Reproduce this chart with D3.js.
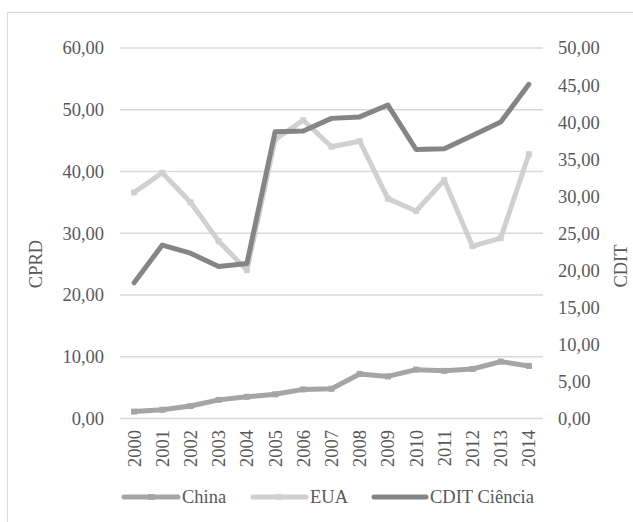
<!DOCTYPE html>
<html>
<head>
<meta charset="utf-8">
<script src="https://cdn.jsdelivr.net/npm/d3@7"></script>
<style>
  text { font-family: "Liberation Serif" !important; }
</style>
</head>
<body style="margin:0">
<svg id="c" width="633" height="522"></svg>
<script>
// years on the x axis
const years = ["2000","2001","2002","2003","2004","2005","2006","2007","2008","2009","2010","2011","2012","2013","2014"];

// left axis (CPRD)
const china = [1.1, 1.4, 2.0, 3.0, 3.5, 3.9, 4.7, 4.8, 7.2, 6.8, 7.9, 7.7, 8.0, 9.2, 8.5];
const eua = [36.6, 39.8, 35.0, 28.7, 24.0, 45.2, 48.3, 44.0, 44.9, 35.6, 33.6, 38.6, 27.9, 29.2, 42.8];

// right axis (CDIT)
const cditCiencia = [18.3, 23.4, 22.3, 20.5, 20.9, 38.7, 38.8, 40.5, 40.7, 42.3, 36.3, 36.4, 38.2, 40.0, 45.1];

const leftTicks = [0, 10, 20, 30, 40, 50, 60];
const rightTicks = [0, 5, 10, 15, 20, 25, 30, 35, 40, 45, 50];

const series = [
  { name: "China", values: china, axis: "left", color: "#a5a5a5", marker: true },
  { name: "EUA", values: eua, axis: "left", color: "#d0d0d0", marker: true },
  { name: "CDIT Ciência", values: cditCiencia, axis: "right", color: "#858585", marker: false }
];

const fmt = v => d3.format(".2f")(v).replace(".", ",");

const svg = d3.select("#c");

// outer chart border
svg.append("rect")
  .attr("x", 7.5).attr("y", 12.5)
  .attr("width", 700).attr("height", 600)
  .attr("fill", "none")
  .attr("stroke", "#d9d9d9")
  .attr("stroke-width", 1);

const plot = { left: 120, right: 543, top: 48, bottom: 418.4 };

const x = d3.scaleBand()
  .domain(years)
  .range([plot.left, plot.right]);

const yLeft = d3.scaleLinear().domain([0, 60]).range([plot.bottom, plot.top]);
const yRight = d3.scaleLinear().domain([0, 50]).range([plot.bottom, plot.top]);

// gridlines
svg.selectAll("line.grid")
  .data(leftTicks)
  .join("line")
  .attr("class", "grid")
  .attr("x1", plot.left).attr("x2", plot.right)
  .attr("y1", d => yLeft(d)).attr("y2", d => yLeft(d))
  .attr("stroke", "#d9d9d9")
  .attr("stroke-width", 1.5);

// every text goes straight under the svg
function addText(x0, y0, str, anchor, rotate) {
  const t = svg.append("text")
    .attr("font-family", "Liberation Serif")
    .style("font-family", "Liberation Serif")
    .attr("font-size", 18.5)
    .attr("fill", "#595959")
    .attr("text-anchor", anchor)
    .attr("dy", "0.35em")
    .text(str);
  if (rotate) {
    t.attr("transform", `translate(${x0},${y0}) rotate(-90)`);
  } else {
    t.attr("x", x0).attr("y", y0);
  }
  return t;
}

leftTicks.forEach(d => addText(104, yLeft(d), fmt(d), "end"));
rightTicks.forEach(d => addText(558, yRight(d), fmt(d), "start"));
years.forEach(d => addText(x(d) + x.bandwidth() / 2, 430, d, "end", true));
addText(36, 264, "CPRD", "middle", true);
addText(621, 266, "CDIT", "middle", true);

// lines
const cx = i => x(years[i]) + x.bandwidth() / 2;

series.forEach(s => {
  const yScale = s.axis === "left" ? yLeft : yRight;
  const line = d3.line()
    .x((d, i) => cx(i))
    .y(d => yScale(d));

  svg.append("path")
    .datum(s.values)
    .attr("d", line)
    .attr("fill", "none")
    .attr("stroke", s.color)
    .attr("stroke-width", 5)
    .attr("stroke-linejoin", "round")
    .attr("stroke-linecap", "round");

  if (s.marker) {
    s.values.forEach((d, i) => {
      svg.append("rect")
        .attr("x", cx(i) - 3)
        .attr("y", yScale(d) - 3)
        .attr("width", 6).attr("height", 6)
        .attr("fill", s.color);
    });
  }
});

// legend
const legendItems = [
  { s: series[0], x1: 124, x2: 178, tx: 182 },
  { s: series[1], x1: 253, x2: 306, tx: 310 },
  { s: series[2], x1: 374, x2: 426, tx: 430 }
];
const legendY = 497;

legendItems.forEach(it => {
  svg.append("line")
    .attr("x1", it.x1).attr("x2", it.x2)
    .attr("y1", legendY).attr("y2", legendY)
    .attr("stroke", it.s.color)
    .attr("stroke-width", 5)
    .attr("stroke-linecap", "round");
  if (it.s.marker) {
    svg.append("rect")
      .attr("x", (it.x1 + it.x2) / 2 - 3)
      .attr("y", legendY - 3)
      .attr("width", 6).attr("height", 6)
      .attr("fill", it.s.color);
  }
  addText(it.tx, legendY, it.s.name, "start");
});
</script>
</body>
</html>
